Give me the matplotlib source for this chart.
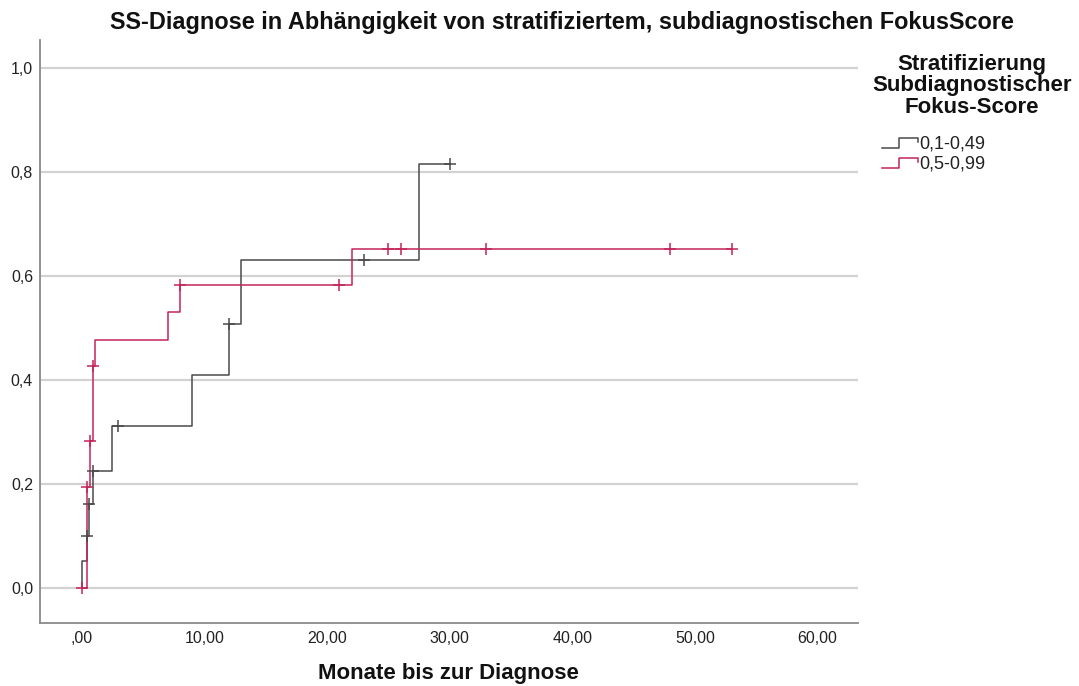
import matplotlib

matplotlib.use("Agg")

import matplotlib.pyplot as plt
from matplotlib.lines import Line2D

plt.rcParams["font.family"] = ["Liberation Sans", "DejaVu Sans"]

# cumulative SS diagnosis per focus-score stratum
# event times in months and the cumulative value after each step
low_times = [0.0, 0.4, 0.6, 0.9, 2.5, 9.0, 12.0, 13.0, 27.5]
low_values = [0.052, 0.101, 0.162, 0.226, 0.311, 0.410, 0.507, 0.631, 0.815]
low_censored = [0.4, 0.6, 0.9, 3.0, 12.0, 23.0, 30.0]

high_times = [0.4, 0.7, 0.9, 1.1, 7.0, 8.0, 22.0]
high_values = [0.194, 0.283, 0.427, 0.478, 0.531, 0.583, 0.652]
high_censored = [0.0, 0.4, 0.7, 0.9, 8.0, 21.0, 25.0, 26.0, 33.0, 48.0, 53.0]

group_labels = ["0,1-0,49", "0,5-0,99"]
group_colors = ["#4a4a4a", "#c3245a"]

y_ticks = [0.0, 0.2, 0.4, 0.6, 0.8, 1.0]
x_ticks = [0, 10, 20, 30, 40, 50, 60]

W, H = 1079, 686


def value_at(times, values, t):
    v = 0.0
    for ti, vi in zip(times, values):
        if ti <= t:
            v = vi
    return v


def fx(px):
    return px / W


def fy(py):
    return 1 - py / H


fig = plt.figure(figsize=(W / 100, H / 100), dpi=100)
ax = fig.add_axes([fx(40), fy(623), fx(858) - fx(40), fy(40) - fy(623)])

for y in y_ticks:
    ax.axhline(y, color="#d2d2d2", lw=1.6, zorder=0)

curves = [
    (low_times, low_values, low_censored),
    (high_times, high_values, high_censored),
]
for (times, values, censored), color in zip(curves, group_colors):
    end = max(censored + times)
    xs = [0.0] + times + [end]
    ys = [0.0] + values + [values[-1]]
    ax.step(xs, ys, where="post", color=color, lw=1.1, zorder=3)
    cy = [value_at(times, values, t) for t in censored]
    ax.plot(censored, cy, ls="none", marker="+", ms=9, mew=1.1,
            color=color, zorder=4)

ax.set_xlim(-3.4, 63.3)
ax.set_ylim(-0.067, 1.054)
ax.set_yticks(y_ticks)
ax.set_yticklabels([f"{v:.1f}".replace(".", ",") for v in y_ticks])
ax.set_xticks(x_ticks)
ax.set_xticklabels([",00" if v == 0 else f"{v:.2f}".replace(".", ",")
                    for v in x_ticks])
ax.tick_params(axis="both", length=0, labelsize=11.5, colors="#222222")
ax.tick_params(axis="x", pad=6)
ax.tick_params(axis="y", pad=5)

for side in ["top", "right"]:
    ax.spines[side].set_visible(False)
for side in ["left", "bottom"]:
    ax.spines[side].set_color("#8a8a8a")
    ax.spines[side].set_linewidth(1.3)

fig.text(fx(448), fy(674), "Monate bis zur Diagnose", ha="center",
         va="center", fontsize=16, fontweight="bold", color="#111111")
fig.text(fx(562), fy(23),
         "SS-Diagnose in Abhängigkeit von stratifiziertem, subdiagnostischen FokusScore",
         ha="center", va="center", fontsize=16.9, fontweight="bold",
         color="#111111")

# legend drawn by hand so that the handles keep the step shape
fig.text(fx(972), fy(86), "Stratifizierung\nSubdiagnostischer\nFokus-Score",
         ha="center", va="center", fontsize=16, fontweight="bold",
         linespacing=1.02, color="#111111")
for i, (label, color) in enumerate(zip(group_labels, group_colors)):
    base = 148 + i * 20
    hx = [882, 899, 899, 918, 918]
    hy = [base, base, base - 10, base - 10, base - 6]
    fig.add_artist(Line2D([fx(x) for x in hx], [fy(y) for y in hy],
                          color=color, lw=1.1, transform=fig.transFigure))
    fig.text(fx(919), fy(base - 4), label, ha="left", va="center",
             fontsize=13, color="#222222")

fig.savefig("out.png", dpi=100)
